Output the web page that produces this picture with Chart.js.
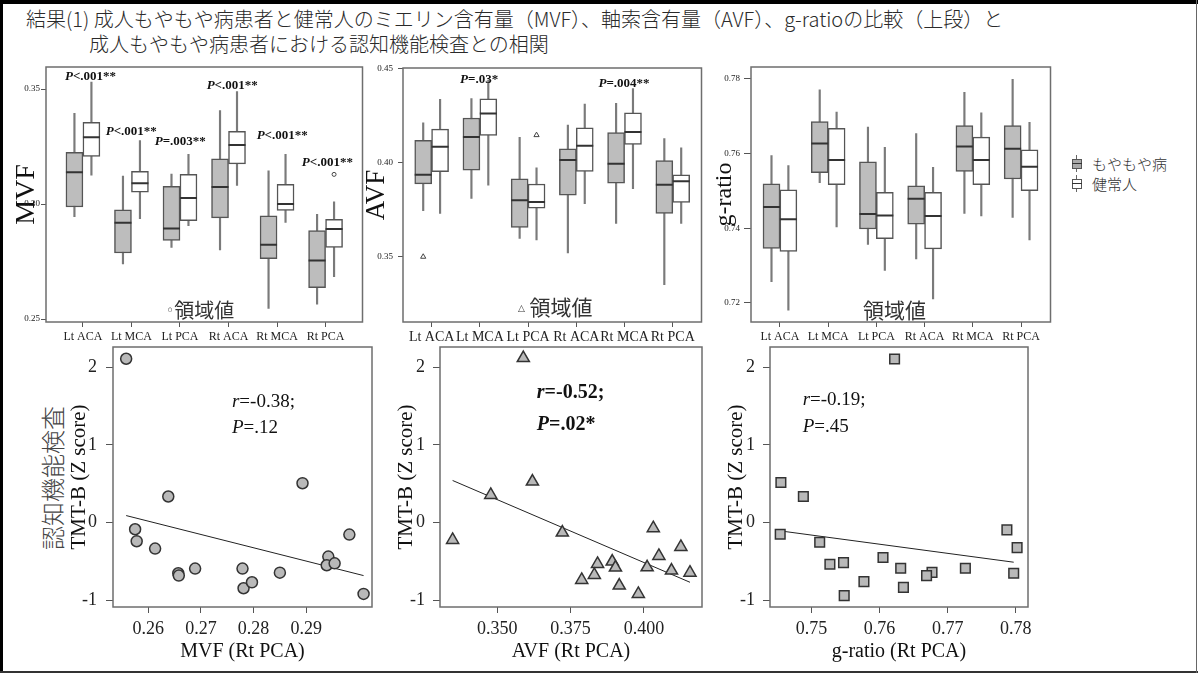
<!DOCTYPE html>
<html>
<head>
<meta charset="utf-8">
<script src="https://cdn.jsdelivr.net/npm/chart.js@4.4.1/dist/chart.umd.min.js"></script>
<style>
  body { margin: 0; background: #fff; }
  #page { position: relative; width: 1198px; height: 675px; overflow: hidden; background: #fff; font-family: 'Noto Sans CJK JP', sans-serif; }
  #page canvas { position: absolute; }
  .t { position: absolute; white-space: nowrap; color: #2a2a2a; }
  .bar { position: absolute; }
</style>
</head>
<body>
<div id="page">
  <div class="bar" style="left:0;top:0;width:1198px;height:4px;background:#000"></div>
  <div class="bar" style="left:0;top:0;width:3px;height:673px;background:#000"></div>
  <div class="bar" style="left:0;top:671px;width:1198px;height:2px;background:#333"></div>
  <div class="bar" style="left:1196px;top:0;width:1px;height:673px;background:#666"></div>

  <div class="t" style="left:26px;top:9px;font-size:20px;line-height:20px;font-weight:300">結果(1) 成人もやもや病患者と健常人のミエリン含有量（MVF）、軸索含有量（AVF）、g-ratioの比較（上段）と</div>
  <div class="t" style="left:89px;top:34px;font-size:20px;line-height:20px;font-weight:300">成人もやもや病患者における認知機能検査との相関</div>

  <div class="t" style="left:-20px;top:466px;width:144px;height:24px;font-size:24px;line-height:24px;text-align:center;color:#444;font-weight:300;transform:rotate(-90deg)">認知機能検査</div>

  <div id="legend"></div>

  <canvas id="c1"></canvas>
  <canvas id="c2"></canvas>
  <canvas id="c3"></canvas>
  <canvas id="c4"></canvas>
  <canvas id="c5"></canvas>
  <canvas id="c6"></canvas>
</div>
<script>
const SERIF = "'Liberation Serif', 'Times New Roman', serif";
const JP = "'Noto Sans CJK JP', sans-serif";

const regions = ['Lt ACA', 'Lt MCA', 'Lt PCA', 'Rt ACA', 'Rt MCA', 'Rt PCA'];
const groups = ['もやもや病', '健常人'];

// [whisker low, Q1, median, Q3, whisker high] for each region
const mvfMoyamoya = [
    [0.2945, 0.2987, 0.3138, 0.3225, 0.3394],
    [0.2740, 0.2787, 0.2919, 0.2975, 0.3122],
    [0.2811, 0.2842, 0.2894, 0.3077, 0.3130],
    [0.2800, 0.2940, 0.3074, 0.3197, 0.3406],
    [0.2546, 0.2762, 0.2823, 0.2949, 0.3144],
    [0.2564, 0.2636, 0.2755, 0.2885, 0.2955],
];
const mvfHealthy = [
    [0.3126, 0.3207, 0.3291, 0.3355, 0.3530],
    [0.2936, 0.3052, 0.3090, 0.3142, 0.3276],
    [0.2906, 0.2928, 0.3026, 0.3129, 0.3216],
    [0.3081, 0.3175, 0.3257, 0.3316, 0.3489],
    [0.2920, 0.2972, 0.3000, 0.3086, 0.3216],
    [0.2684, 0.2811, 0.2891, 0.2933, 0.3010],
];
const avfMoyamoya = [
    [0.3745, 0.3888, 0.3936, 0.4119, 0.4213],
    [0.3810, 0.3961, 0.4137, 0.4238, 0.4342],
    [0.3598, 0.3656, 0.3801, 0.3915, 0.4135],
    [0.3521, 0.3828, 0.4014, 0.4074, 0.4200],
    [0.3677, 0.3892, 0.3995, 0.4161, 0.4316],
    [0.3351, 0.3730, 0.3883, 0.4012, 0.4128],
];
const avfHealthy = [
    [0.3730, 0.3952, 0.4085, 0.4179, 0.4337],
    [0.3881, 0.4145, 0.4262, 0.4340, 0.4440],
    [0.3589, 0.3759, 0.3791, 0.3887, 0.3973],
    [0.3782, 0.3954, 0.4090, 0.4186, 0.4312],
    [0.3862, 0.4098, 0.4163, 0.4266, 0.4395],
    [0.3677, 0.3789, 0.3901, 0.3936, 0.4080],
];
const grMoyamoya = [
    [0.7257, 0.7346, 0.7457, 0.7519, 0.7595],
    [0.7522, 0.7549, 0.7627, 0.7686, 0.7771],
    [0.7357, 0.7398, 0.7438, 0.7578, 0.7671],
    [0.7318, 0.7411, 0.7479, 0.7514, 0.7654],
    [0.7440, 0.7552, 0.7619, 0.7675, 0.7764],
    [0.7429, 0.7532, 0.7613, 0.7675, 0.7799],
];
const grHealthy = [
    [0.7181, 0.7338, 0.7424, 0.7503, 0.7568],
    [0.7404, 0.7517, 0.7583, 0.7668, 0.7711],
    [0.7287, 0.7372, 0.7434, 0.7496, 0.7617],
    [0.7211, 0.7345, 0.7433, 0.7496, 0.7563],
    [0.7433, 0.7517, 0.7583, 0.7644, 0.7709],
    [0.7369, 0.7501, 0.7565, 0.7610, 0.7684],
];

// outliers: [region index, group index, value]
const mvfOutliers = [[5, 1, 0.3129]];
const avfOutliers = [[0, 0, 0.3500], [2, 1, 0.4147]];

const mvfTicks = [0.25, 0.30, 0.35];
const avfTicks = [0.35, 0.40, 0.45];
const grTicks = [0.72, 0.74, 0.76, 0.78];

// Rt PCA values vs TMT-B (Z score), moyamoya patients
const mvfRtPca = [0.2558, 0.2638, 0.2575, 0.2578, 0.2613, 0.2657, 0.2658, 0.2689, 0.2779, 0.2781, 0.2797, 0.2850, 0.2893, 0.2942, 0.2939, 0.2954, 0.2982, 0.3009];
const tmtbMvf = [2.107, 0.335, -0.086, -0.240, -0.335, -0.652, -0.682, -0.592, -0.592, -0.845, -0.768, -0.644, 0.506, -0.438, -0.549, -0.524, -0.155, -0.918];
const mvfFit = [[0.2558, 0.090], [0.3009, -0.682]];

const avfRtPca = [0.3589, 0.3620, 0.3478, 0.3348, 0.3722, 0.3842, 0.3788, 0.3831, 0.3892, 0.3903, 0.3916, 0.3981, 0.4011, 0.4032, 0.4051, 0.4094, 0.4126, 0.4157];
const tmtbAvf = [2.116, 0.528, 0.356, -0.223, -0.129, -0.532, -0.738, -0.674, -0.502, -0.579, -0.811, -0.918, -0.575, -0.073, -0.429, -0.618, -0.313, -0.644];
const avfFit = [[0.3348, 0.541], [0.4157, -0.768]];

const grRtPca = [0.7622, 0.7455, 0.7488, 0.7454, 0.7512, 0.7527, 0.7547, 0.7548, 0.7577, 0.7605, 0.7631, 0.7635, 0.7677, 0.7669, 0.7726, 0.7787, 0.7802, 0.7797];
const tmtbGr = [2.103, 0.515, 0.335, -0.150, -0.253, -0.536, -0.515, -0.940, -0.760, -0.450, -0.588, -0.833, -0.640, -0.682, -0.588, -0.094, -0.322, -0.652];
const grFit = [[0.7454, -0.107], [0.7797, -0.510]];

const zTicks = [-1, 0, 1, 2];
const mvfXTicks = [0.26, 0.27, 0.28, 0.29];
const avfXTicks = [0.350, 0.375, 0.400];
const grXTicks = [0.75, 0.76, 0.77, 0.78];

// ---- legend (html) ----
const legend = document.getElementById('legend');
groups.forEach((g, i) => {
    const y = 155 + i * 20;
    legend.insertAdjacentHTML('beforeend',
        `<div class="bar" style="left:1076px;top:${y}px;width:1px;height:17px;background:#666"></div>` +
        `<div class="bar" style="left:1072px;top:${y + 4}px;width:8px;height:8px;border:1px solid #555;background:${i ? '#fff' : '#aaa'}"></div>` +
        `<div class="bar" style="left:1072px;top:${y + 8}px;width:10px;height:1px;background:#333"></div>` +
        `<div class="t" style="left:1092px;top:${y + 1}px;font-size:15px;line-height:15px;color:#333;font-weight:300">${g}</div>`);
});

// ---- plugins ----
const framePlugin = {
    id: 'frame',
    afterDatasetsDraw(chart) {
        const {ctx, chartArea: a} = chart;
        ctx.save();
        ctx.strokeStyle = '#6e6e6e';
        ctx.lineWidth = 1.5;
        ctx.strokeRect(a.left, a.top, a.right - a.left, a.bottom - a.top);
        ctx.restore();
    }
};

function notesPlugin(items) {
    return {
        id: 'notes',
        afterDraw(chart) {
            const {ctx, scales} = chart;
            items.forEach(it => {
                let px = scales.x.getPixelForValue(it.x);
                const py = scales.y.getPixelForValue(it.y);
                ctx.save();
                ctx.textBaseline = 'middle';
                ctx.fillStyle = it.color || '#111';
                it.parts.forEach(p => {
                    ctx.font = p.font;
                    ctx.fillText(p.t, px, py + (p.dy || 0));
                    px += ctx.measureText(p.t).width;
                });
                ctx.restore();
            });
        }
    };
}

// ---- helpers ----
function axis(o) {
    return {
        type: 'linear', min: o.min, max: o.max, offset: false,
        afterBuildTicks: s => { s.ticks = o.ticks.map(v => ({value: v})); },
        afterFit: s => {
            if (o.w !== undefined) s.width = o.w;
            if (o.h !== undefined) s.height = o.h;
            s.paddingTop = 0; s.paddingBottom = 0; s.paddingLeft = 0; s.paddingRight = 0;
        },
        ticks: {callback: v => o.fmt(v), font: {family: SERIF, size: o.fs}, color: '#222', padding: o.pad, autoSkip: false, maxRotation: 0, minRotation: 0},
        grid: {drawOnChartArea: false, tickLength: o.tl, color: '#555', offset: false},
        border: {display: false},
        title: o.title ? {
            display: true, text: o.title, color: '#111',
            font: {family: SERIF, size: o.tfs, lineHeight: 1},
            padding: o.tpad
        } : {display: false}
    };
}

function makeChart(id, frame, lay, type, datasets, scales, notes) {
    const c = document.getElementById(id);
    c.width = lay.yw + frame.r - frame.l + lay.pr;
    c.height = lay.pt + frame.b - frame.t + lay.xh;
    c.style.left = (frame.l - lay.yw) + 'px';
    c.style.top = (frame.t - lay.pt) + 'px';
    return new Chart(c, {
        type: type,
        data: {datasets: datasets},
        options: {
            responsive: false, animation: false, devicePixelRatio: 1,
            layout: {padding: {left: 0, top: lay.pt, right: lay.pr, bottom: 0}},
            plugins: {legend: {display: false}, tooltip: {enabled: false}},
            scales: scales
        },
        plugins: [framePlugin, notesPlugin(notes)]
    });
}

const BOX_OFF = 0.175;
function boxSets(moya, healthy, outliers, outStyle, outR) {
    const sets = [moya, healthy];
    const cx = (i, g) => i + 1 + (g ? BOX_OFF : -BOX_OFF);
    const ds = [];
    sets.forEach((s, g) => ds.push({
        type: 'scatter', order: 0,
        data: s.map((v, i) => ({x: cx(i, g), y: v[2]})),
        pointStyle: 'line', pointRadius: 8.5, borderColor: '#333', borderWidth: 2
    }));
    ds.push({
        type: 'scatter', order: 0,
        data: outliers.map(o => ({x: cx(o[0], o[1]), y: o[2]})),
        pointStyle: outStyle, pointRadius: outR, backgroundColor: '#fff', borderColor: '#444', borderWidth: 1
    });
    sets.forEach((s, g) => ds.push({
        type: 'bar', order: 1, grouped: false, barThickness: 17,
        data: s.map((v, i) => ({x: cx(i, g), y: [v[1], v[3]]})),
        backgroundColor: g ? '#ffffff' : '#bdbdbd', borderColor: '#555', borderWidth: 1.5, borderSkipped: false
    }));
    sets.forEach((s, g) => ds.push({
        type: 'bar', order: 2, grouped: false, barThickness: 1.5,
        data: s.map((v, i) => ({x: cx(i, g), y: [v[0], v[4]]})),
        backgroundColor: '#7a7a7a', borderWidth: 0
    }));
    return ds;
}

function scatterSets(xs, ys, fit, style, r) {
    return [
        {type: 'scatter', order: 0, data: xs.map((x, i) => ({x: x, y: ys[i]})),
         pointStyle: style, pointRadius: r, backgroundColor: '#b9b9b9', borderColor: '#333', borderWidth: 1.5},
        {type: 'scatter', order: 1, data: fit.map(p => ({x: p[0], y: p[1]})),
         showLine: true, pointRadius: 0, borderColor: '#222', borderWidth: 1}
    ];
}

const regionLabel = v => regions[Math.round(v) - 1];
const f2 = v => v.toFixed(2);
const f3 = v => v.toFixed(3);
const fz = v => String(v);

const pNote = (x, y, rest) => ({x: x, y: y, parts: [
    {t: 'P', font: `italic bold 13px ${SERIF}`},
    {t: rest, font: `bold 13px ${SERIF}`}
]});
const rNote = (x, y, a, b, bold) => ({x: x, y: y, parts: [
    {t: a, font: `italic ${bold ? 'bold ' : ''}${bold ? 20 : 19}px ${SERIF}`},
    {t: b, font: `${bold ? 'bold ' : ''}${bold ? 20 : 19}px ${SERIF}`}
]});

// ---- top row: box plots ----
makeChart('c1', {l: 46, t: 67, r: 363, b: 322}, {yw: 46, pt: 12, pr: 10, xh: 26}, 'bar',
    boxSets(mvfMoyamoya, mvfHealthy, mvfOutliers, 'circle', 2),
    {
        x: axis({min: 0.239, max: 6.761, ticks: [1, 2, 3, 4, 5, 6], fmt: regionLabel, fs: 12, tl: 5, pad: 3, h: 26}),
        y: axis({min: 0.2487, max: 0.3596, ticks: mvfTicks, fmt: f2, fs: 9, tl: 5, pad: 1, w: 46,
                 title: 'MVF', tfs: 28, tpad: {top: 13, bottom: 0}})
    },
    [
        pNote(0.63, 0.3552, '<.001**'), pNote(1.47, 0.3317, '<.001**'), pNote(2.48, 0.3270, '=.003**'),
        pNote(3.55, 0.3513, '<.001**'), pNote(4.58, 0.3296, '<.001**'), pNote(5.51, 0.3178, '<.001**'),
        {x: 2.71, y: 0.2539, color: '#333', parts: [
            {t: '◦', font: `14px 'DejaVu Sans'`, dy: 1},
            {t: '領域値', font: `20px ${JP}`}
        ]}
    ]);

makeChart('c2', {l: 403, t: 68, r: 702, b: 322}, {yw: 40, pt: 12, pr: 10, xh: 26}, 'bar',
    boxSets(avfMoyamoya, avfHealthy, avfOutliers, 'triangle', 3),
    {
        x: axis({min: 0.406, max: 6.596, ticks: [1, 2, 3, 4, 5, 6], fmt: regionLabel, fs: 14, tl: 5, pad: 2, h: 26}),
        y: axis({min: 0.3153, max: 0.4504, ticks: avfTicks, fmt: f2, fs: 9, tl: 5, pad: 5, w: 40,
                 title: 'AVF', tfs: 27, tpad: {top: 0, bottom: 0}})
    },
    [
        pNote(1.59, 0.4440, '=.03*'), pNote(4.46, 0.4419, '=.004**'),
        {x: 2.79, y: 0.3232, color: '#333', parts: [
            {t: '△', font: `9px 'DejaVu Sans'`, dy: 2},
            {t: ' 領域値', font: `21px ${JP}`}
        ]}
    ]);

makeChart('c3', {l: 751, t: 67, r: 1051, b: 322}, {yw: 45, pt: 12, pr: 10, xh: 26}, 'bar',
    boxSets(grMoyamoya, grHealthy, [], 'circle', 2),
    {
        x: axis({min: 0.4, max: 6.61, ticks: [1, 2, 3, 4, 5, 6], fmt: regionLabel, fs: 12, tl: 5, pad: 3, h: 26}),
        y: axis({min: 0.7149, max: 0.7832, ticks: grTicks, fmt: f2, fs: 9, tl: 7, pad: 4, w: 45,
                 title: 'g-ratio', tfs: 24, tpad: {top: 7, bottom: 0}})
    },
    [
        {x: 2.72, y: 0.7182, color: '#333', parts: [{t: '領域値', font: `21px ${JP}`}]}
    ]);

// ---- bottom row: correlations ----
makeChart('c4', {l: 113, t: 347, r: 372, b: 607}, {yw: 83, pt: 10, pr: 10, xh: 60}, 'scatter',
    scatterSets(mvfRtPca, tmtbMvf, mvfFit, 'circle', 5.5),
    {
        x: axis({min: 0.2533, max: 0.3025, ticks: mvfXTicks, fmt: f2, fs: 18, tl: 6, pad: 5, h: 60,
                 title: 'MVF (Rt PCA)', tfs: 20, tpad: {top: 0, bottom: 5}}),
        y: axis({min: -1.086, max: 2.258, ticks: zTicks, fmt: fz, fs: 18, tl: 7, pad: 9, w: 83,
                 title: 'TMT-B (Z score)', tfs: 21, tpad: {top: 39, bottom: 0}})
    },
    [rNote(0.2759, 1.555, 'r', '=-0.38;', false), rNote(0.2759, 1.22, 'P', '=.12', false)]);

makeChart('c5', {l: 440, t: 347, r: 702, b: 607}, {yw: 60, pt: 10, pr: 10, xh: 60}, 'scatter',
    scatterSets(avfRtPca, tmtbAvf, avfFit, 'triangle', 7),
    {
        x: axis({min: 0.3305, max: 0.4198, ticks: avfXTicks, fmt: f3, fs: 18, tl: 6, pad: 5, h: 60,
                 title: 'AVF (Rt PCA)', tfs: 20, tpad: {top: 0, bottom: 5}}),
        y: axis({min: -1.086, max: 2.258, ticks: zTicks, fmt: fz, fs: 18, tl: 7, pad: 8, w: 60,
                 title: 'TMT-B (Z score)', tfs: 21, tpad: {top: 16, bottom: 0}})
    },
    [rNote(0.3635, 1.671, 'r', '=-0.52;', true), rNote(0.3635, 1.259, 'P', '=.02*', true)]);

makeChart('c6', {l: 770, t: 347, r: 1028, b: 607}, {yw: 60, pt: 10, pr: 10, xh: 60}, 'scatter',
    scatterSets(grRtPca, tmtbGr, grFit, 'rect', 6.8),
    {
        x: axis({min: 0.7439, max: 0.7818, ticks: grXTicks, fmt: f2, fs: 18, tl: 6, pad: 5, h: 60,
                 title: 'g-ratio (Rt PCA)', tfs: 20, tpad: {top: 0, bottom: 5}}),
        y: axis({min: -1.086, max: 2.258, ticks: zTicks, fmt: fz, fs: 18, tl: 7, pad: 8, w: 60,
                 title: 'TMT-B (Z score)', tfs: 21, tpad: {top: 16, bottom: 0}})
    },
    [rNote(0.7487, 1.58, 'r', '=-0.19;', false), rNote(0.7487, 1.233, 'P', '=.45', false)]);
</script>
</body>
</html>
